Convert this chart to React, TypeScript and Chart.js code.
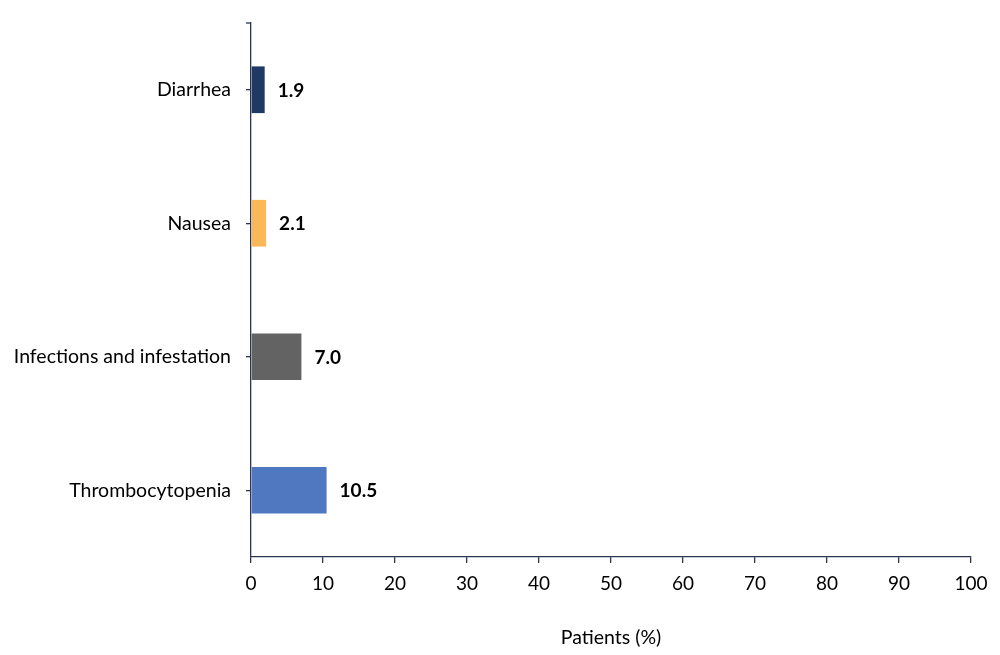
import React, { useEffect, useRef } from "react";
import { Chart, registerables } from "chart.js";

Chart.register(...registerables);

const categories = ["Diarrhea", "Nausea", "Infections and infestation", "Thrombocytopenia"];
const values = [1.9, 2.1, 7.0, 10.5];
const barColors = ["#1F3864", "#FBB859", "#636363", "#4F78C0"];
const xTitle = "Patients (%)";
const xMin = 0;
const xMax = 100;
const xStep = 10;

const AXIS_COLOR = "#2B3452";
const FONT = "Lato, 'Liberation Sans', sans-serif";

export default function App() {
  const canvasRef = useRef<HTMLCanvasElement | null>(null);

  useEffect(() => {
    const canvas = canvasRef.current;
    if (!canvas) return;

    const valueLabels = {
      id: "valueLabels",
      afterDatasetsDraw(chart: any) {
        const ctx = chart.ctx;
        const meta = chart.getDatasetMeta(0);
        ctx.save();
        ctx.font = `bold 19px ${FONT}`;
        ctx.fillStyle = "#000000";
        ctx.textAlign = "left";
        ctx.textBaseline = "middle";
        meta.data.forEach((el: any, i: number) => {
          ctx.fillText(values[i].toFixed(1), el.x + 13, el.y + 1);
        });
        ctx.restore();
      },
    };

    const topTick = {
      id: "topTick",
      afterDraw(chart: any) {
        const { ctx, chartArea } = chart;
        ctx.save();
        ctx.strokeStyle = AXIS_COLOR;
        ctx.lineWidth = 1.3;
        ctx.beginPath();
        ctx.moveTo(chartArea.left - 5, chartArea.top);
        ctx.lineTo(chartArea.left, chartArea.top);
        ctx.stroke();
        ctx.restore();
      },
    };

    const chart = new Chart(canvas, {
      type: "bar",
      data: {
        labels: categories,
        datasets: [
          {
            data: values,
            backgroundColor: barColors,
            borderWidth: 0,
            barPercentage: 0.35,
            categoryPercentage: 1,
          },
        ],
      },
      plugins: [valueLabels, topTick],
      options: {
        indexAxis: "y",
        animation: false,
        responsive: false,
        maintainAspectRatio: false,
        devicePixelRatio: 1,
        layout: { padding: { top: 23, right: 29, left: 0, bottom: 0 } },
        plugins: {
          legend: { display: false },
          tooltip: { enabled: false },
          title: { display: false },
        },
        scales: {
          x: {
            type: "linear",
            min: xMin,
            max: xMax,
            ticks: {
              stepSize: xStep,
              color: "#000000",
              font: { family: FONT, size: 19 },
              padding: 9,
              maxRotation: 0,
            },
            grid: {
              display: true,
              drawOnChartArea: false,
              drawTicks: true,
              tickLength: 6,
              color: AXIS_COLOR,
              lineWidth: 1.3,
            },
            border: { display: true, color: AXIS_COLOR, width: 1.3 },
            title: {
              display: true,
              text: xTitle,
              color: "#000000",
              font: { family: FONT, size: 19.5 },
              padding: { top: 0, bottom: 6 },
            },
            afterFit(scale: any) {
              scale.height = 98;
            },
          },
          y: {
            type: "category",
            offset: true,
            ticks: {
              color: "#000000",
              font: { family: FONT, size: 19.5 },
              padding: 15,
            },
            grid: {
              display: true,
              drawOnChartArea: false,
              drawTicks: true,
              tickLength: 5,
              offset: false,
              color: AXIS_COLOR,
              lineWidth: 1.3,
            },
            border: { display: true, color: AXIS_COLOR, width: 1.3 },
            afterFit(scale: any) {
              scale.width = 251;
              scale.paddingTop = 0;
              scale.paddingBottom = 0;
            },
          },
        },
      },
    } as any);

    return () => {
      chart.destroy();
    };
  }, []);

  return (
    <div
      style={{
        position: "fixed",
        left: 0,
        top: 0,
        width: 1000,
        height: 655,
        background: "#ffffff",
      }}
    >
      <canvas ref={canvasRef} width={1000} height={655} style={{ width: 1000, height: 655, display: "block" }} />
    </div>
  );
}
